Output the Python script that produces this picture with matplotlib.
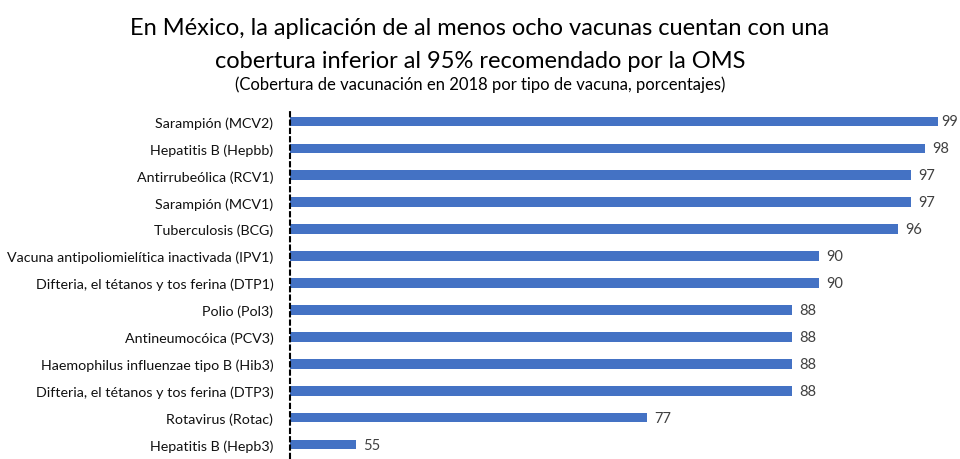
import matplotlib
matplotlib.use("Agg")
import matplotlib.pyplot as plt

categories = [
    "Sarampión (MCV2)",
    "Hepatitis B (Hepbb)",
    "Antirrubeólica (RCV1)",
    "Sarampión (MCV1)",
    "Tuberculosis (BCG)",
    "Vacuna antipoliomielítica inactivada (IPV1)",
    "Difteria, el tétanos y tos ferina (DTP1)",
    "Polio (Pol3)",
    "Antineumocóica (PCV3)",
    "Haemophilus influenzae tipo B (Hib3)",
    "Difteria, el tétanos y tos ferina (DTP3)",
    "Rotavirus (Rotac)",
    "Hepatitis B (Hepb3)",
]
values = [99, 98, 97, 97, 96, 90, 90, 88, 88, 88, 88, 77, 55]

title = "En México, la aplicación de al menos ocho vacunas cuentan con una\ncobertura inferior al 95% recomendado por la OMS"
subtitle = "(Cobertura de vacunación en 2018 por tipo de vacuna, porcentajes)"

plt.rcParams['font.family'] = ['Lato', 'DejaVu Sans']

fig = plt.figure(figsize=(9.6, 4.6), dpi=100)
ax = fig.add_axes([290/960, 1 - 459/460, (951 - 290)/960, (459 - 109)/460])

y = list(range(len(categories)))
ax.barh(y, values, height=0.36, color="#4472C4")
ax.set_xlim(50, 100)
ax.set_ylim(len(categories) - 0.5, -0.5)
ax.set_yticks(y)
ax.set_yticklabels(categories, fontsize=10.3, color="#111111")
ax.tick_params(axis='y', length=0, pad=12)
ax.set_xticks([])
for s in ["top", "right", "bottom"]:
    ax.spines[s].set_visible(False)
ax.spines["left"].set_linestyle((0, (2, 2)))
ax.spines["left"].set_linewidth(1.5)
ax.spines["left"].set_color("black")

for yi, v in zip(y, values):
    ax.text(min(v + 0.55, 99.25), yi, str(v), va="center", ha="left", fontsize=10.5, color="#404040")

fig.text(0.5, 1 - 45/460, title, ha="center", va="center", fontsize=17, linespacing=1.75, color="black")
fig.text(0.5, 1 - 85/460, subtitle, ha="center", va="center", fontsize=12, color="black")

fig.savefig("out.png", dpi=100)
